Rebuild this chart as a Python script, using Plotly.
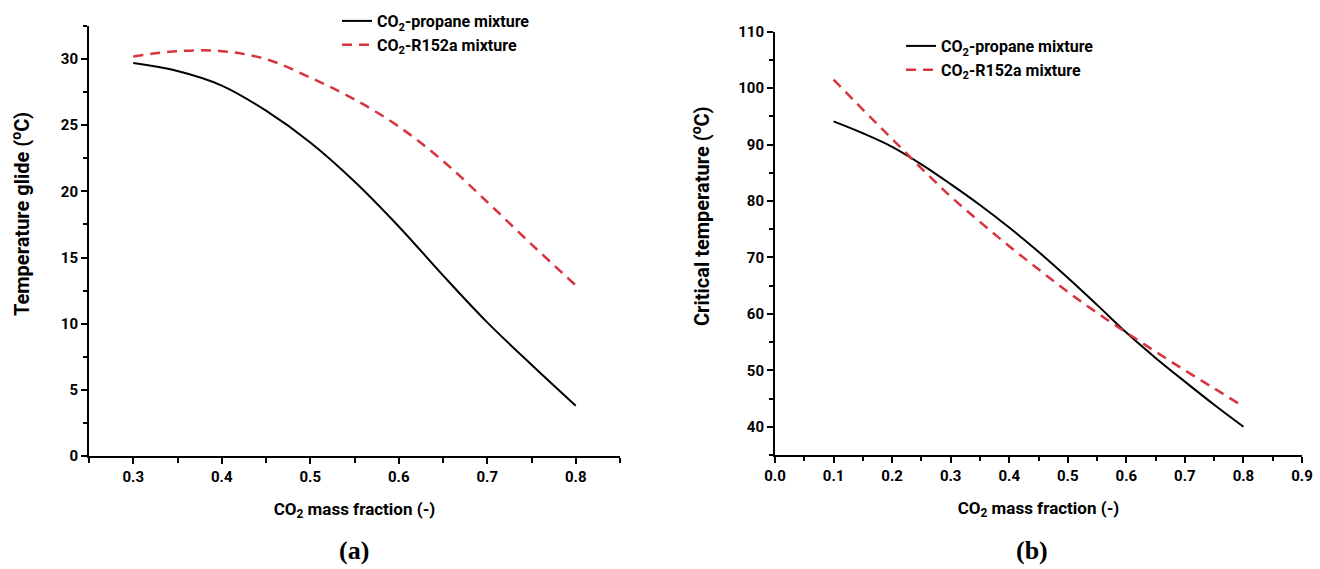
import plotly.graph_objects as go

# ---- data (a) temperature glide ----
xa = [0.30, 0.35, 0.40, 0.45, 0.50, 0.55, 0.60, 0.65, 0.70, 0.75, 0.80]
glide_propane = [29.7, 29.1, 28.0, 26.1, 23.7, 20.75, 17.35, 13.65, 10.1, 6.9, 3.8]
glide_r152a = [30.2, 30.6, 30.6, 30.0, 28.6, 26.95, 24.9, 22.3, 19.2, 16.0, 12.9]

# ---- data (b) critical temperature ----
xb = [0.10, 0.15, 0.20, 0.25, 0.30, 0.35, 0.40, 0.45, 0.50, 0.55, 0.60, 0.65, 0.70, 0.75, 0.80]
tc_propane = [94.1, 92.0, 89.6, 86.5, 83.0, 79.3, 75.3, 71.0, 66.4, 61.6, 56.7, 52.2, 48.0, 43.9, 40.0]
xb_r = [0.10, 0.15, 0.20, 0.25, 0.30, 0.35, 0.40, 0.45, 0.50, 0.55, 0.60, 0.65, 0.70, 0.75, 0.795]
tc_r152a = [101.5, 96.2, 91.0, 85.8, 80.8, 76.3, 72.0, 67.9, 63.9, 60.2, 56.7, 53.3, 50.0, 46.8, 43.9]

name_propane = "<b>CO<sub>2</sub>-propane mixture</b>"
name_r152a = "<b>CO<sub>2</sub>-R152a mixture</b>"
ytitle_a = "<b>Temperature glide (<sup>o</sup>C)</b>"
ytitle_b = "<b>Critical temperature (<sup>o</sup>C)</b>"
xtitle = "<b>CO<sub>2</sub> mass fraction (-)</b>"

FONT = "Roboto, Liberation Sans, Arial, sans-serif"
SERIF = "Liberation Serif, Times New Roman, serif"
RED = "#d8343f"

fig = go.Figure()
fig.add_trace(go.Scatter(x=xa, y=glide_propane, mode="lines", name=name_propane,
                         line=dict(color="black", width=2, shape="spline", smoothing=1.0),
                         xaxis="x", yaxis="y", legend="legend"))
fig.add_trace(go.Scatter(x=xa, y=glide_r152a, mode="lines", name=name_r152a,
                         line=dict(color=RED, width=2.5, dash="10px,7px", shape="spline", smoothing=1.0),
                         xaxis="x", yaxis="y", legend="legend"))
fig.add_trace(go.Scatter(x=xb, y=tc_propane, mode="lines", name=name_propane,
                         line=dict(color="black", width=2, shape="spline", smoothing=1.0),
                         xaxis="x2", yaxis="y2", legend="legend2"))
fig.add_trace(go.Scatter(x=xb_r, y=tc_r152a, mode="lines", name=name_r152a,
                         line=dict(color=RED, width=2.5, dash="10px,7px", shape="spline", smoothing=1.0),
                         xaxis="x2", yaxis="y2", legend="legend2"))

W, H = 1320, 569


def ax(**kw):
    d = dict(showline=True, linecolor="black", linewidth=2, ticks="outside",
             ticklen=6, tickwidth=2, tickcolor="black", showgrid=False, zeroline=False,
             tickfont=dict(family=FONT, size=15, color="black"),
             title_font=dict(family=FONT, size=17, color="black"),
             mirror=False, automargin=False)
    d.update(kw)
    return d


def bold(vals, fmt):
    return ["<b>" + (fmt % v) + "</b>" for v in vals]


xa_ticks = [0.3, 0.4, 0.5, 0.6, 0.7, 0.8]
ya_ticks = [0, 5, 10, 15, 20, 25, 30]
xb_ticks = [0, 0.1, 0.2, 0.3, 0.4, 0.5, 0.6, 0.7, 0.8, 0.9]
yb_ticks = [40, 50, 60, 70, 80, 90, 100, 110]

fig.update_layout(
    width=W, height=H, margin=dict(l=0, r=0, t=0, b=0, autoexpand=False),
    paper_bgcolor="white", plot_bgcolor="white",
    font=dict(family=FONT, color="black"),
    xaxis=ax(domain=[89 / W, 620 / W], range=[0.25, 0.85], tickmode="array",
             tickvals=xa_ticks, ticktext=bold(xa_ticks, "%.1f"),
             minor=dict(ticks="outside", tickvals=[0.25, 0.35, 0.45, 0.55, 0.65, 0.75, 0.85],
                        ticklen=5, tickwidth=1.5, tickcolor="black"),
             title=dict(text=xtitle, standoff=18),
             anchor="y"),
    yaxis=ax(domain=[(H - 456) / H, (H - 26) / H], range=[0, 32.5], tickmode="array",
             tickvals=ya_ticks, ticktext=bold(ya_ticks, "%d"),
             minor=dict(ticks="outside", tickvals=[2.5, 7.5, 12.5, 17.5, 22.5, 27.5, 32.5],
                        ticklen=4, tickwidth=1.5, tickcolor="black"),
             anchor="x"),
    xaxis2=ax(domain=[775 / W, 1302 / W], range=[0, 0.9], tickmode="array",
              tickvals=xb_ticks, ticktext=bold(xb_ticks, "%.1f"),
              minor=dict(ticks="outside", tickvals=[0.05, 0.15, 0.25, 0.35, 0.45, 0.55, 0.65, 0.75, 0.85],
                         ticklen=4, tickwidth=1.5, tickcolor="black"),
              title=dict(text=xtitle, standoff=18),
              anchor="y2"),
    yaxis2=ax(domain=[(H - 455) / H, (H - 31.7) / H], range=[35, 110], tickmode="array",
              tickvals=yb_ticks, ticktext=bold(yb_ticks, "%d"),
              minor=dict(ticks="outside", tickvals=[35, 45, 55, 65, 75, 85, 95, 105],
                         ticklen=4, tickwidth=1.5, tickcolor="black"),
              anchor="x2"),
    legend=dict(x=337 / W, y=1 - 4 / H, xanchor="left", yanchor="top",
                bgcolor="rgba(0,0,0,0)", font=dict(family=FONT, size=16, color="black"),
                itemwidth=30, tracegroupgap=0),
    legend2=dict(x=901 / W, y=1 - 29 / H, xanchor="left", yanchor="top",
                 bgcolor="rgba(0,0,0,0)", font=dict(family=FONT, size=16, color="black"),
                 itemwidth=30, tracegroupgap=0),
    showlegend=True,
    annotations=[
        dict(text=ytitle_a, x=21 / W, y=1 - 214 / H, xref="paper", yref="paper",
             xanchor="center", yanchor="middle", textangle=-90, showarrow=False,
             font=dict(family=FONT, size=20, color="black")),
        dict(text=ytitle_b, x=701 / W, y=1 - 216 / H, xref="paper", yref="paper",
             xanchor="center", yanchor="middle", textangle=-90, showarrow=False,
             font=dict(family=FONT, size=20, color="black")),
        dict(text="<b>(a)</b>", x=354 / W, y=1 - 550 / H, xref="paper", yref="paper",
             xanchor="center", yanchor="middle", showarrow=False,
             font=dict(family=SERIF, size=26, color="black")),
        dict(text="<b>(b)</b>", x=1032 / W, y=1 - 550 / H, xref="paper", yref="paper",
             xanchor="center", yanchor="middle", showarrow=False,
             font=dict(family=SERIF, size=26, color="black")),
    ],
)

fig.write_html("out.html")
